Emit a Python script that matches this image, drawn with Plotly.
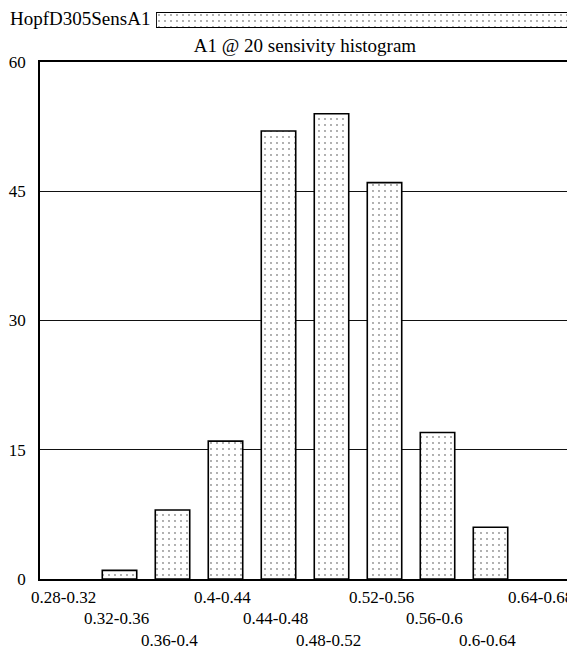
import plotly.graph_objects as go

categories = ["0.28-0.32", "0.32-0.36", "0.36-0.4", "0.4-0.44", "0.44-0.48",
              "0.48-0.52", "0.52-0.56", "0.56-0.6", "0.6-0.64", "0.64-0.68"]
counts = [0, 1, 8, 16, 52, 54, 46, 17, 6, 0]
series_name = "HopfD305SensA1"
title_text = "A1 @ 20 sensivity histogram"
y_ticks = [0, 15, 30, 45, 60]

FONT = "Liberation Serif"

# page body has an 8px margin; figure sized so it fits the window
OFF = 8
W, H = 575 - OFF, 650 - OFF
PLOT_L, PLOT_R, PLOT_T, PLOT_B = 40, 570, 62, 579   # screen pixels
TOP = 10                                              # screen px of paper top
ML, MR, MT, MB = PLOT_L - OFF, W - (PLOT_R - OFF), TOP - OFF, H - (PLOT_B - OFF)


def py(p):
    """screen pixel row -> paper fraction"""
    return (PLOT_B - p) / (PLOT_B - TOP)


def px(p):
    """screen pixel column -> paper fraction"""
    return min(1.0, max(0.0, (p - PLOT_L) / (PLOT_R - PLOT_L)))


pattern = dict(shape=".", fgcolor="#1a1a1a", bgcolor="white", size=6, solidity=0.07)

fig = go.Figure()
fig.add_trace(go.Bar(
    x=categories, y=counts,
    marker=dict(color="white",
                line=dict(color="black", width=[1.6 if v > 0 else 0 for v in counts]),
                pattern=pattern),
    showlegend=False,
))
# legend swatch (wide patterned box)
fig.add_trace(go.Bar(
    x=[1], y=[0], orientation="h", xaxis="x2", yaxis="y2",
    marker=dict(color="white", line=dict(color="black", width=1.8), pattern=pattern),
    width=1, showlegend=False, hoverinfo="skip",
))

annotations = []
row_centers = [597, 618.5, 640]
for i, c in enumerate(categories):
    row = i % 3
    annotations.append(dict(
        x=c, xref="x", y=0, yref="y", yanchor="middle", xanchor="center",
        text=c, showarrow=False, yshift=-(row_centers[row] - PLOT_B), xshift=-3.5,
        font=dict(family=FONT, size=17, color="black"),
    ))
annotations.append(dict(
    x=0.0, xref="paper", y=py(19), yref="paper", yanchor="middle", xanchor="left",
    text=series_name, showarrow=False, xshift=-(PLOT_L - OFF),
    font=dict(family=FONT, size=19, color="black"),
))

fig.update_layout(
    width=W, height=H,
    margin=dict(l=ML, r=MR, t=MT, b=MB, pad=0, autoexpand=False),
    paper_bgcolor="white", plot_bgcolor="white",
    bargap=0.35,
    title=dict(text=title_text, xref="container", x=(305 - OFF) / W, xanchor="center",
               yref="container", y=1 - (45 - OFF) / H, yanchor="middle",
               font=dict(family=FONT, size=19, color="black")),
    font=dict(family=FONT, size=17, color="black"),
    xaxis=dict(range=[-0.5, len(categories) - 0.5], autorange=False,
               showticklabels=False, showgrid=False, showline=True, linecolor="black",
               linewidth=1.6, mirror=True, ticks="", zeroline=False, anchor="y",
               automargin=False),
    yaxis=dict(domain=[0, py(PLOT_T)], range=[0, 60], autorange=False, tickvals=y_ticks,
               showgrid=True, gridcolor="#111111", gridwidth=1, showline=True,
               linecolor="black", linewidth=1.6, mirror=True, ticks="", zeroline=False,
               ticklabelstandoff=9, tickfont=dict(family=FONT, size=17), automargin=False),
    xaxis2=dict(domain=[px(156), px(570)], anchor="y2", range=[0, 1], visible=False,
                automargin=False),
    yaxis2=dict(domain=[py(28), py(12)], anchor="x2", range=[-0.5, 0.5], visible=False,
                automargin=False),
    annotations=annotations,
)

fig.write_html("out.html")
